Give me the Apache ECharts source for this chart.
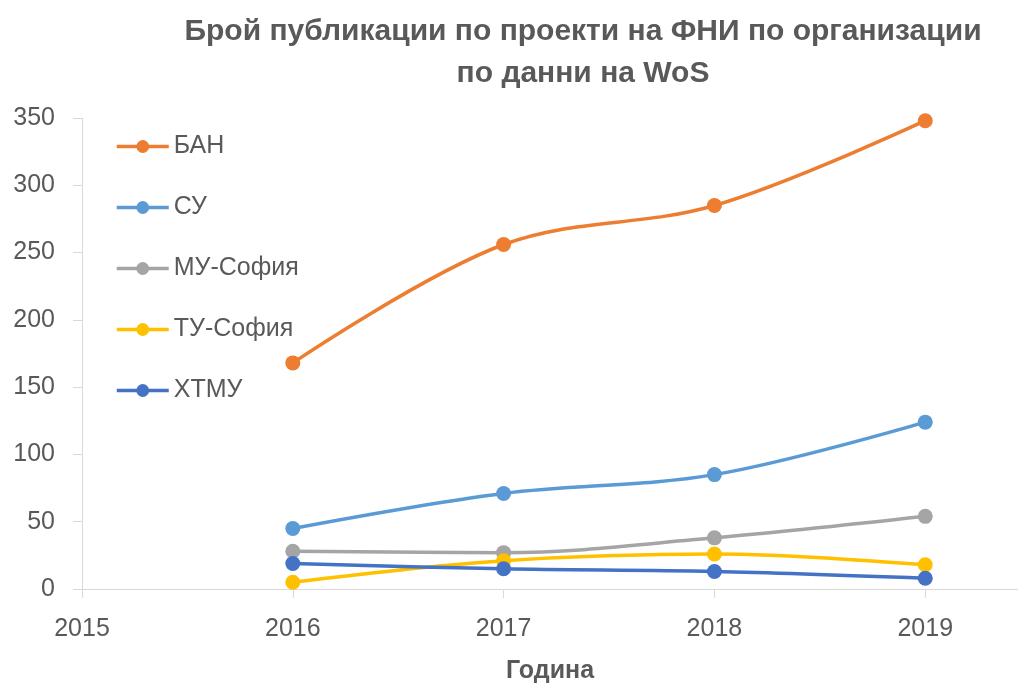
<!DOCTYPE html>
<html>
<head>
<meta charset="utf-8">
<script src="https://cdn.jsdelivr.net/npm/echarts@6/dist/echarts.min.js"></script>
<style>
  html, body { margin: 0; padding: 0; background: #fff; }
  #chart { width: 1018px; height: 684px; }
</style>
</head>
<body>
<div id="chart"></div>
<script>
// data
const years = [2016, 2017, 2018, 2019];
const ban = [168, 256, 285, 348];
const su = [45, 71, 85, 124];
const muSofia = [28, 27, 38, 54];
const tuSofia = [5, 21, 26, 18];
const htmu = [19, 15, 13, 8];

const seriesNames = ["БАН", "СУ", "МУ-София", "ТУ-София", "ХТМУ"];
const seriesValues = [ban, su, muSofia, tuSofia, htmu];
const seriesColors = ["#ED7D31", "#5B9BD5", "#A5A5A5", "#FFC000", "#4472C4"];

const textColor = "#595959";
const axisColor = "#D9D9D9";
const font = "'Liberation Sans', Arial, sans-serif";

const chart = echarts.init(document.getElementById("chart"), null, { renderer: "canvas" });

chart.setOption({
  animation: false,
  backgroundColor: "#fff",
  title: {
    text: "Брой публикации по проекти на ФНИ по организации\nпо данни на WoS",
    left: 578,
    textAlign: "center",
    top: 6,
    textStyle: {
      fontFamily: font,
      fontWeight: "bold",
      fontSize: 30,
      lineHeight: 42,
      color: textColor,
    },
  },
  legend: {
    orient: "vertical",
    left: 110,
    top: 129,
    itemWidth: 52,
    itemHeight: 16,
    itemGap: 36,
    data: seriesNames,
    lineStyle: { width: 3.5 },
    textStyle: { fontFamily: font, fontSize: 25, color: textColor },
  },
  grid: { left: 82, right: 0, top: 118, bottom: 95, outerBoundsMode: "none" },
  xAxis: {
    type: "value",
    min: 2015,
    max: 2019.44,
    interval: 1,
    name: "Година",
    nameLocation: "middle",
    nameGap: 70,
    nameTextStyle: { fontFamily: font, fontSize: 25, fontWeight: "bold", color: textColor },
    axisLine: { lineStyle: { color: axisColor, width: 1 } },
    axisTick: { show: true, length: 9, lineStyle: { color: axisColor } },
    axisLabel: {
      fontFamily: font,
      fontSize: 25,
      color: textColor,
      margin: 28,
      showMaxLabel: false,
      formatter: (v) => (Number.isInteger(v) ? String(v) : ""),
    },
    splitLine: { show: false },
  },
  yAxis: {
    type: "value",
    min: 0,
    max: 350,
    interval: 50,
    axisLine: { show: true, lineStyle: { color: axisColor, width: 1 } },
    axisTick: { show: true, length: 9, lineStyle: { color: axisColor } },
    axisLabel: { fontFamily: font, fontSize: 25, color: textColor, margin: 27 },
    splitLine: { show: false },
  },
  series: seriesNames.map((name, i) => ({
    name,
    type: "line",
    smooth: 0.35,
    symbol: "circle",
    symbolSize: 15,
    data: years.map((y, j) => [y, seriesValues[i][j]]),
    lineStyle: { color: seriesColors[i], width: 3.5 },
    itemStyle: { color: seriesColors[i] },
  })),
});
</script>
</body>
</html>
